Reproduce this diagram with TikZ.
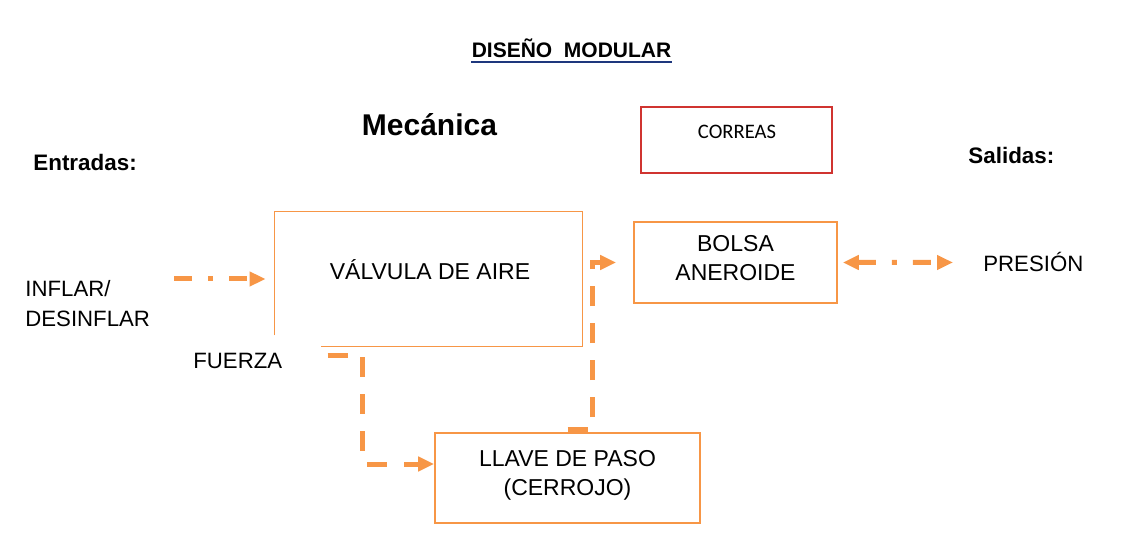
\documentclass[tikz,border=0pt]{standalone}
\usepackage{fontspec}
\setmainfont{Liberation Sans}
\newfontfamily\calibri{Carlito}
\usetikzlibrary{arrows.meta}
\definecolor{naranja}{RGB}{247,150,70}
\definecolor{rojo}{RGB}{208,52,48}
\definecolor{azul}{RGB}{30,55,125}

\begin{document}
\begin{tikzpicture}[
  x=0.5pt, y=-0.5pt,
  >={Triangle[length=8pt, width=7pt]},
  block/.style={draw=naranja, line width=0.8pt, inner sep=0pt},
  hollow/.style={inner sep=0pt},
  rblock/.style={draw=rojo, line width=0.7pt, inner sep=0pt},
  txt/.style={inner sep=0pt, font=\fontsize{11.5}{14.5}\selectfont, align=center},
  side/.style={inner sep=0pt, font=\fontsize{11.1}{15}\selectfont, align=left},
  head/.style={inner sep=0pt, font=\bfseries\fontsize{11.2}{13}\selectfont},
  flow/.style={->, naranja, line width=2.5pt, dash pattern=on 10pt off 8.5pt},
  dotflow/.style={naranja, line width=2.5pt, dash pattern=on 9pt off 8pt on 2.5pt off 8pt}
]
  \useasboundingbox (0,0) rectangle (1130,545);

  % titles
  \node[inner sep=0pt, anchor=base, font=\bfseries\fontsize{10.5}{12}\selectfont] (titulo) at (571.5,58) {DISEÑO\ \ MODULAR};
  \draw[azul, line width=1.3pt] ([yshift=-2pt]titulo.base west) -- ([yshift=-2pt]titulo.base east);
  \node[inner sep=0pt, anchor=base, font=\bfseries\fontsize{15}{18}\selectfont] (mecanica) at (429.5,136) {Mecánica};
  \node[head, anchor=base west] (entradas) at (33,171) {Entradas:};
  \node[head, anchor=base west] (salidas) at (968,164) {Salidas:};

  % blocks
  \node[rblock, minimum width=95.5pt, minimum height=33pt] (correas) at (736.5,140) {};
  \node[inner sep=0pt, anchor=base, font=\calibri\fontsize{10.3}{12}\selectfont] (correastxt) at (737,139) {CORREAS};

  \node[hollow, minimum width=153.5pt, minimum height=67pt] (valvula) at (428.5,279) {};
  \draw[naranja, line width=0.8pt] ([yshift=5.5pt]valvula.south west) -- (valvula.north west)
    -- (valvula.north east) -- (valvula.south east) -- ([xshift=23pt]valvula.south west);
  \node[txt, anchor=base] (valvulatxt) at (430,280) {VÁLVULA DE AIRE};

  \node[block, minimum width=101.5pt, minimum height=40.5pt] (bolsa) at (735.5,262.5) {};
  \node[txt, anchor=base] (bolsatxt) at (735.5,281) {BOLSA\\ANEROIDE};

  \node[block, minimum width=132.5pt, minimum height=45pt] (llave) at (567.5,478) {};
  \node[txt, anchor=base] (llavetxt) at (567.5,495.5) {LLAVE DE PASO\\(CERROJO)};

  % inputs and outputs
  \node[side, anchor=base west] (inflar) at (25,327) {INFLAR/\\DESINFLAR};
  \node[side, anchor=base west] (fuerza) at (193,368) {FUERZA};
  \node[side, anchor=base west] (presion) at (983,272) {PRESIÓN};

  % connectors
  \draw[dotflow, ->, shorten <=12pt, shorten >=4.5pt] (inflar.east |- valvula.west) -- (valvula.west);
  \draw[dotflow, <->, shorten <=2.5pt, shorten >=15pt] (bolsa.east) -- (presion.west);
  \draw[flow, shorten <=22.5pt] ([yshift=2.5pt]fuerza.east) -- ++(80,0) |- ([yshift=7pt]llave.west);
  \draw[flow, shorten >=8.5pt] ([yshift=1.5pt]llave.north) -- ++(25,0) |- (bolsa.west);
\end{tikzpicture}
\end{document}
